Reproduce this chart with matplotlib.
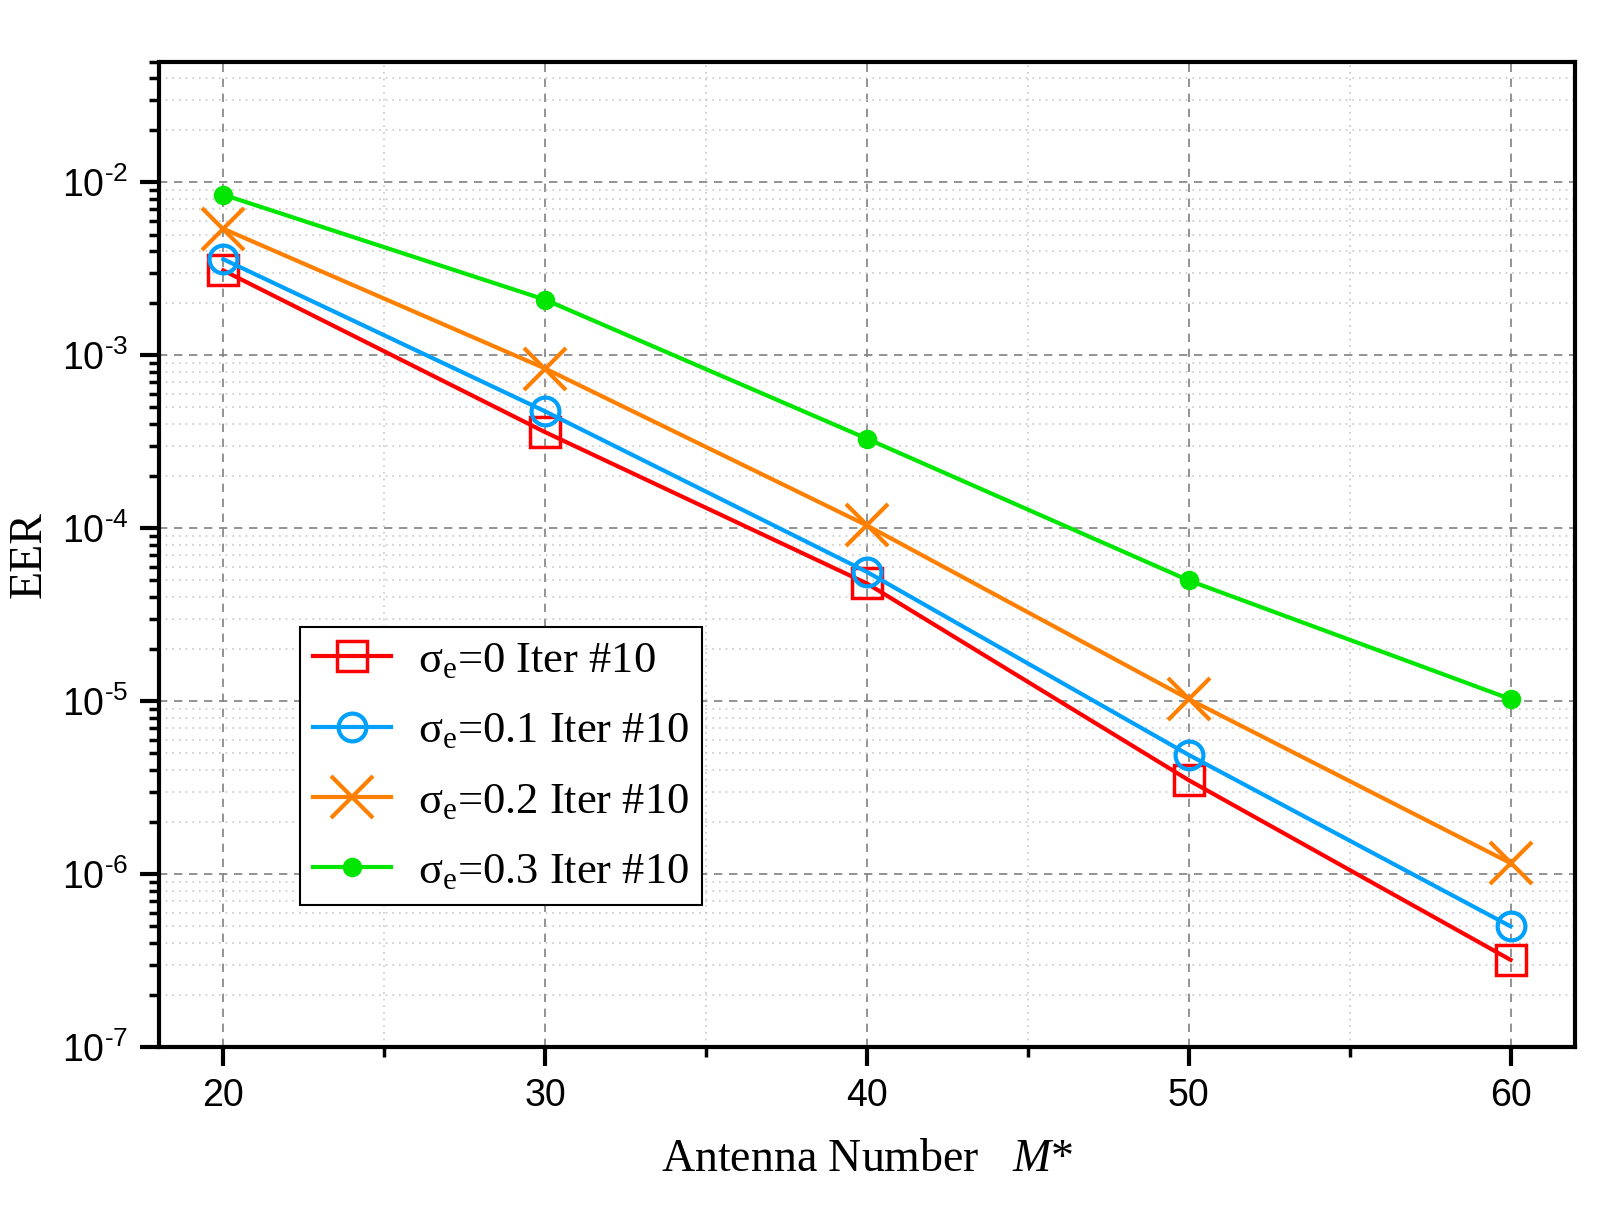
import matplotlib
matplotlib.use('Agg')
import matplotlib.pyplot as plt
import numpy as np
from matplotlib.ticker import LogLocator, MultipleLocator, NullFormatter

plt.rcParams['mathtext.fontset'] = 'custom'
plt.rcParams['mathtext.rm'] = 'Liberation Serif'
plt.rcParams['mathtext.it'] = 'Liberation Serif:italic'
plt.rcParams['mathtext.sf'] = 'Liberation Sans'

antennas = [20, 30, 40, 50, 60]
eer_s0 = [3.1e-3, 3.6e-4, 4.8e-5, 3.5e-6, 3.2e-7]
eer_s01 = [3.6e-3, 4.75e-4, 5.6e-5, 4.9e-6, 5.0e-7]
eer_s02 = [5.4e-3, 8.4e-4, 1.04e-4, 1.03e-5, 1.16e-6]
eer_s03 = [8.5e-3, 2.1e-3, 3.3e-4, 5.0e-5, 1.03e-5]

labels = ['σ$_{\\mathrm{e}}$=0 Iter #10',
          'σ$_{\\mathrm{e}}$=0.1 Iter #10',
          'σ$_{\\mathrm{e}}$=0.2 Iter #10',
          'σ$_{\\mathrm{e}}$=0.3 Iter #10']
y_exponents = [-7, -6, -5, -4, -3, -2]

fig = plt.figure(figsize=(16.09, 12.32), dpi=100)
ax = fig.add_axes([0.0988, 0.150, 0.880, 0.800])

ax.plot(antennas, eer_s0, color='#ff0000', lw=3, marker='s', ms=21,
        mfc='none', mec='#ff0000', mew=2.5, label=labels[0])
ax.plot(antennas, eer_s01, color='#00a0ff', lw=3, marker='o', ms=20,
        mfc='none', mec='#00a0ff', mew=3, label=labels[1])
ax.plot(antennas, eer_s02, color='#ff8000', lw=3, marker='x', ms=30,
        mew=3, label=labels[2])
ax.plot(antennas, eer_s03, color='#00e600', lw=3, marker='o', ms=13,
        mfc='#00e600', mec='#00e600', label=labels[3])

ax.set_yscale('log')
ax.set_xlim(18, 62)
ax.set_ylim(1e-7, 5e-2)

ax.set_xticks(antennas)
ax.set_xticklabels([str(a) for a in antennas], family='Liberation Sans')
ax.xaxis.set_minor_locator(MultipleLocator(5))
ax.set_yticks([10.0 ** e for e in y_exponents])
ax.set_yticklabels(['$\\mathsf{10^{\u2010%d}}$' % (-e) for e in y_exponents])
ax.yaxis.set_minor_locator(LogLocator(base=10, subs=np.arange(2, 10), numticks=20))
ax.yaxis.set_minor_formatter(NullFormatter())

ax.tick_params(axis='both', which='major', direction='out', length=14, width=3,
               labelsize=27, pad=8)
ax.tick_params(axis='both', which='minor', direction='out', length=7, width=2.5)
ax.tick_params(top=False, right=False, which='both')

ax.grid(True, which='major', linestyle=(0, (5, 4)), color='#808080', lw=1.2)
ax.grid(True, which='minor', linestyle=(0, (1, 3)), color='#c8c8c8', lw=1.2)

for s in ax.spines.values():
    s.set_linewidth(3)

ax.set_xlabel(r'Antenna Number   $M$*', family='Liberation Serif', fontsize=33, labelpad=18)
ax.set_ylabel('EER', family='Liberation Serif', fontsize=33, labelpad=8)

leg = ax.legend(loc='lower left', bbox_to_anchor=(0.0996, 0.144), borderaxespad=0,
                prop={'family': 'Liberation Serif', 'size': 32},
                fancybox=False, framealpha=1, edgecolor='black',
                handlelength=1.75, handletextpad=0.6, labelspacing=0.68,
                borderpad=0.3)
leg.get_frame().set_linewidth(1.5)

fig.savefig('out.png', dpi=100)
